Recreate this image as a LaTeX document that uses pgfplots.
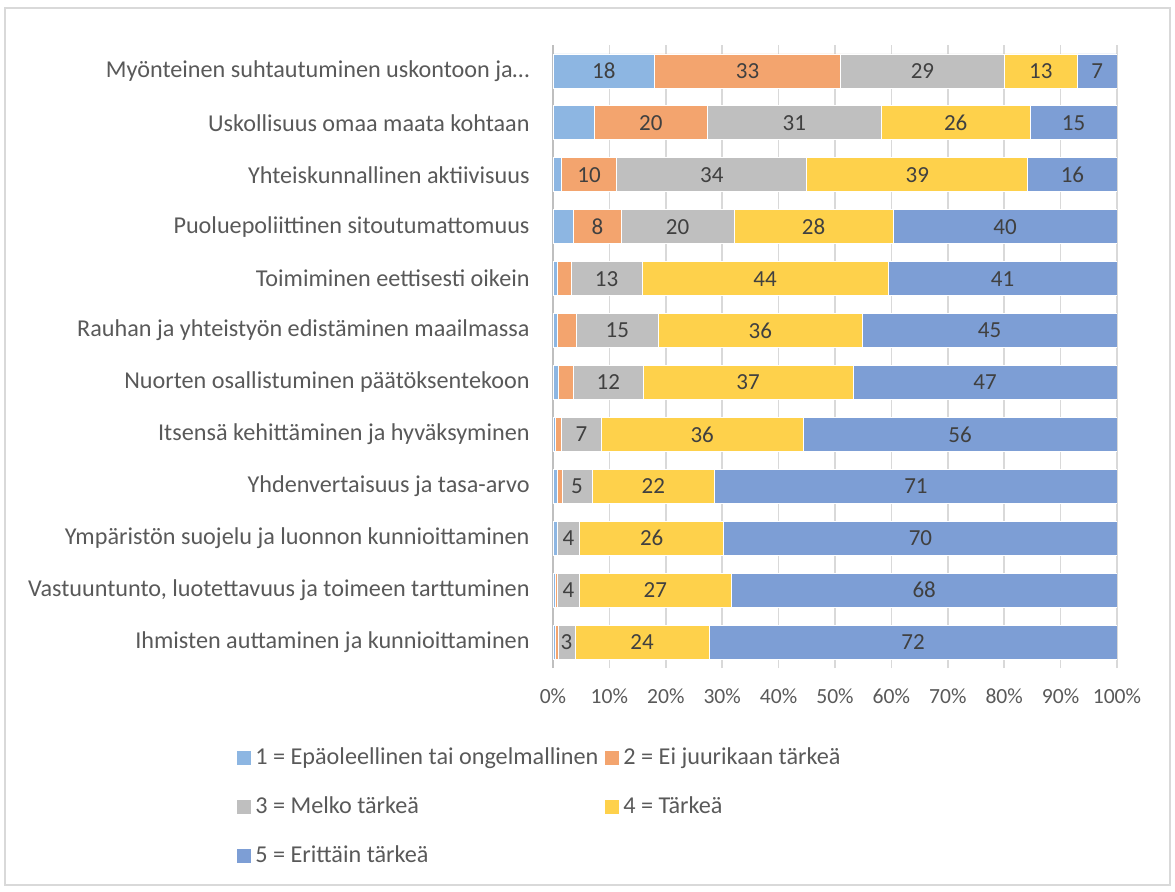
\documentclass[border=0pt]{standalone}
\usepackage{fontspec}
\setmainfont{Carlito}
\usepackage{pgfplots}
\pgfplotsset{compat=1.18}
\usepackage{pgfplotstable}
\definecolor{cA}{RGB}{141,182,226}
\definecolor{cB}{RGB}{243,164,110}
\definecolor{cC}{RGB}{191,191,191}
\definecolor{cD}{RGB}{254,209,75}
\definecolor{cE}{RGB}{125,158,213}
\definecolor{txtc}{RGB}{89,89,89}
\definecolor{labc}{RGB}{64,64,64}
\definecolor{gridc}{RGB}{217,217,217}
% y = 12 is the top row
\pgfplotstableread{
y val lab
12 18 18
11 7.3 0
10 1.5 0
9 3.7 0
8 0.8 0
7 0.8 0
6 0.95 0
5 0.35 0
4 0.8 0
3 0.7 0
2 0.5 0
1 0.5 0
}\tA
\pgfplotstableread{
y val lab
12 33 33
11 20.1 20
10 9.8 10
9 8.4 8
8 2.4 0
7 3.3 0
6 2.65 0
5 1.2 0
4 0.8 0
3 0.1 0
2 0.35 0
1 0.4 0
}\tB
\pgfplotstableread{
y val lab
12 29 29
11 30.8 31
10 33.7 34
9 20 20
8 12.6 13
7 14.6 15
6 12.4 12
5 7.0 7
4 5.3 5
3 3.9 4
2 3.8 4
1 3.0 3
}\tC
\pgfplotstableread{
y val lab
12 13 13
11 26.4 26
10 39.2 39
9 28.2 28
8 43.6 44
7 36.1 36
6 37.2 37
5 35.8 36
4 21.8 22
3 25.6 26
2 27 27
1 23.8 24
}\tD
\pgfplotstableread{
y val lab
12 7 7
11 15.4 15
10 15.8 16
9 39.7 40
8 40.6 41
7 45.2 45
6 46.8 47
5 55.65 56
4 71.3 71
3 69.7 70
2 68.35 68
1 72.3 72
}\tE
\begin{document}
\begin{tikzpicture}
\begin{axis}[
  at={(0,0)}, anchor=south west,
  scale only axis, width=282pt, height=311.5pt,
  xbar stacked, bar width=17pt,
  xmin=0, xmax=100, ymin=0.5, ymax=12.5,
  ytick={1,...,12},
  yticklabels={Ihmisten auttaminen ja kunnioittaminen,
    {Vastuuntunto, luotettavuus ja toimeen tarttuminen},
    Ympäristön suojelu ja luonnon kunnioittaminen,
    Yhdenvertaisuus ja tasa-arvo,
    Itsensä kehittäminen ja hyväksyminen,
    Nuorten osallistuminen päätöksentekoon,
    Rauhan ja yhteistyön edistäminen maailmassa,
    Toimiminen eettisesti oikein,
    Puoluepoliittinen sitoutumattomuus,
    Yhteiskunnallinen aktiivisuus,
    Uskollisuus omaa maata kohtaan,
    Myönteinen suhtautuminen uskontoon ja…},
  xtick={0,10,...,100},
  xticklabel={\pgfmathprintnumber{\tick}\%},
  /pgf/number format/assume math mode=true,
  xmajorgrids, major grid style={gridc, line width=0.8pt},
  axis y line*=left, axis x line*=bottom,
  x axis line style={draw=none},
  y axis line style={draw=cC, line width=1pt, -},
  tick style={draw=none},
  ticklabel style={text=txtc},
  yticklabel style={font=\fontsize{12.1}{14}\selectfont, inner sep=0pt, xshift=-11.5pt},
  xticklabel style={font=\fontsize{10.8}{13}\selectfont, inner sep=0pt, yshift=-10pt},
  visualization depends on={\thisrow{lab} \as \lab},
  nodes near coords={\ifdim\lab pt>0.5pt \pgfmathprintnumber[fixed,precision=0]{\lab}\fi},
  every node near coord/.append style={anchor=center, font=\fontsize{11.5}{13}\selectfont, text=labc},
  legend columns=2,
  legend cell align=left,
  legend image code/.code={\fill[#1, draw=none] (0pt,-3.5pt) rectangle (7pt,3.5pt);},
  legend style={at={(axis description cs:-0.571,-0.115)}, anchor=north west, draw=none, fill=none,
    font=\fontsize{12.1}{14}\selectfont, text=txtc, row sep=10.5pt,
    /tikz/every even column/.append style={column sep=1.5pt}},
]
\addplot[fill=cA, draw=white, line width=0.4pt] table[x=val, y=y] {\tA};
\addlegendentry{1 = Epäoleellinen tai ongelmallinen}
\addplot[fill=cB, draw=white, line width=0.4pt] table[x=val, y=y] {\tB};
\addlegendentry{2 = Ei juurikaan tärkeä}
\addplot[fill=cC, draw=white, line width=0.4pt] table[x=val, y=y] {\tC};
\addlegendentry{3 = Melko tärkeä}
\addplot[fill=cD, draw=white, line width=0.4pt] table[x=val, y=y] {\tD};
\addlegendentry{4 = Tärkeä}
\addplot[fill=cE, draw=white, line width=0.4pt] table[x=val, y=y] {\tE};
\addlegendentry{5 = Erittäin tärkeä}
\end{axis}
\draw[gridc, line width=0.8pt] (-274pt,-108.5pt) rectangle (308.5pt,330pt);
\pgfresetboundingbox
\useasboundingbox (-276.5pt,-111.5pt) rectangle (311pt,334pt);
\end{tikzpicture}
\end{document}
